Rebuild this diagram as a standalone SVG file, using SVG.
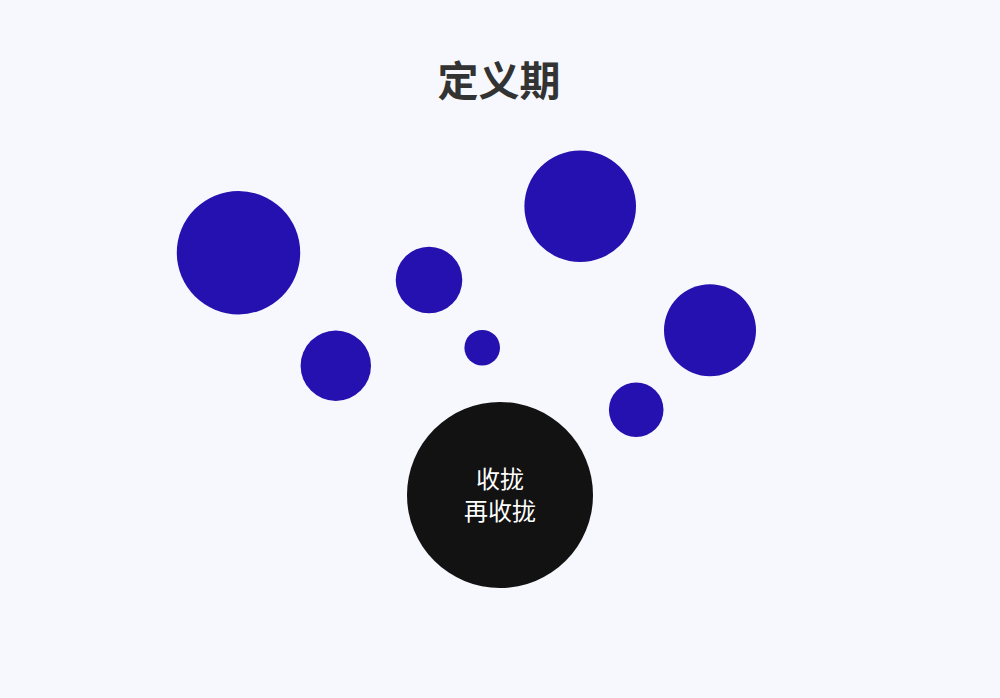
<svg xmlns="http://www.w3.org/2000/svg" width="1000" height="698" viewBox="0 0 1000 698">
  <style>
    .dot { fill: #2510b0; }
    .core { fill: #121212; }
    .title { font-family: "Noto Sans CJK SC", "Noto Sans", sans-serif; font-weight: 700; font-size: 41px; fill: #333333; text-anchor: middle; }
    .label { font-family: "Noto Sans CJK SC", "Noto Sans", sans-serif; font-size: 24px; fill: #ffffff; text-anchor: middle; }
  </style>
  <rect x="0" y="0" width="1000" height="698" fill="#f7f8fd"/>
  <text class="title" x="499" y="96">定义期</text>
  <g id="connectors"></g>
  <g id="n1"><circle class="dot" cx="238.5" cy="252.7" r="61.7"/></g>
  <g id="n2"><circle class="dot" cx="335.8" cy="365.7" r="35.2"/></g>
  <g id="n3"><circle class="dot" cx="429" cy="280" r="33.3"/></g>
  <g id="n4"><circle class="dot" cx="482.2" cy="347.7" r="17.8"/></g>
  <g id="n5"><circle class="dot" cx="580.2" cy="206.3" r="55.8"/></g>
  <g id="n6"><circle class="dot" cx="710" cy="330.3" r="46"/></g>
  <g id="n7"><circle class="dot" cx="636.2" cy="409.7" r="27.3"/></g>
  <g id="core">
    <circle class="core" cx="500" cy="495" r="93"/>
    <text class="label" x="500" y="488">收拢</text>
    <text class="label" x="500" y="520">再收拢</text>
  </g>
</svg>
